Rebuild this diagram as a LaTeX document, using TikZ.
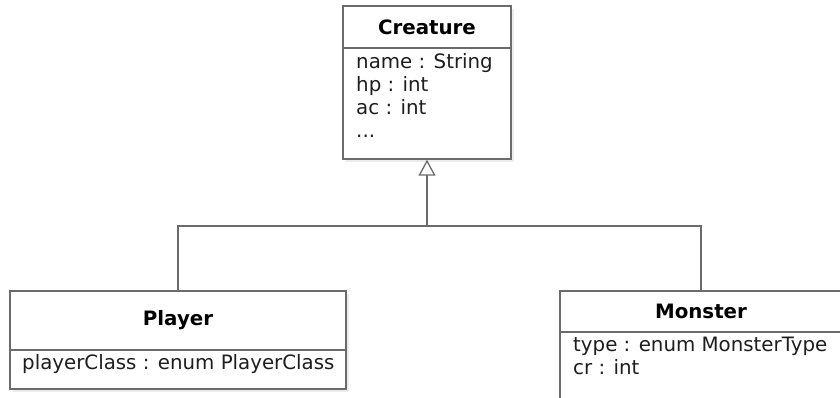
\documentclass[tikz,border=0pt]{standalone}
\usepackage{fontspec}
\setmainfont{DejaVu Sans}
\usetikzlibrary{arrows.meta,shadows}
\definecolor{umlline}{HTML}{6B6B6B}
\definecolor{umltext}{HTML}{1E1E1E}

\newcommand{\umlfont}{\fontsize{19.8}{23}\selectfont}

\tikzset{
  umlbox/.style={draw=umlline, line width=1.4pt, fill=white, inner sep=0pt,
    drop shadow={shadow xshift=2.5pt, shadow yshift=-2.5pt, opacity=0.15}},
  umlhead/.style={draw=umlline, line width=1.4pt, inner sep=0pt, font=\umlfont\bfseries, text=black},
  umlattrs/.style={inner sep=0pt, align=left, text=umltext, anchor=base west}, % base = last line
  umllink/.style={draw=umlline, line width=1.3pt},
}

\begin{document}
\begin{tikzpicture}[x=1pt, y=-1pt, font=\umlfont]
\useasboundingbox (0,0) rectangle (840,397);
\clip (0,0) rectangle (840,397);

% Creature
\node [umlbox, minimum width=168pt, minimum height=153pt] (creature) at (427,82.5) {};
\node [umlhead, minimum width=168pt, minimum height=42pt, anchor=north] (creaturehead) at (creature.north) {Creature};
\node [umlattrs] (creatureattrs) at (356,137) {name : String\\hp : int\\ac : int\\...};

% Player
\node [umlbox, minimum width=336pt, minimum height=98pt] (player) at (178,340) {};
\node [umlhead, minimum width=336pt, minimum height=59pt, anchor=north] (playerhead) at (player.north) {Player};
\node [umlattrs] (playerattrs) at (22,369) {playerClass : enum PlayerClass};

% Monster
\node [umlbox, minimum width=282pt, minimum height=129pt] (monster) at (701,355.5) {};
\node [umlhead, minimum width=282pt, minimum height=41pt, anchor=north] (monsterhead) at (monster.north) {Monster};
\node [umlattrs] (monsterattrs) at (573,374) {type : enum MonsterType\\cr : int};

% generalisation
\coordinate (joint) at (creature.south |- 0,226);
\draw [umllink, -{Triangle[open, length=16pt, width=17pt]}] (joint) -- (creature.south);
\draw [umllink] (player.north) |- (joint) -| (monster.north);
\end{tikzpicture}
\end{document}
